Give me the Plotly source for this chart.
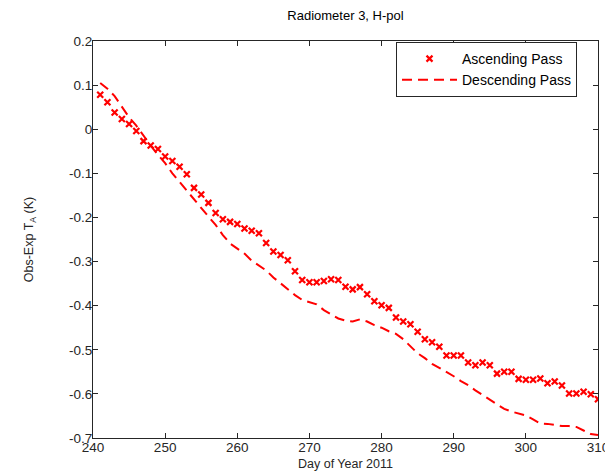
import plotly.graph_objects as go

days = list(range(241, 311))

ascending = [
    0.078, 0.061, 0.038, 0.023, 0.012, -0.004, -0.027, -0.037, -0.045, -0.062,
    -0.072, -0.085, -0.102, -0.133, -0.148, -0.167, -0.190, -0.204, -0.210, -0.215,
    -0.225, -0.230, -0.236, -0.258, -0.277, -0.285, -0.297, -0.322, -0.342, -0.347,
    -0.347, -0.344, -0.340, -0.342, -0.357, -0.363, -0.358, -0.374, -0.390, -0.399,
    -0.405, -0.427, -0.436, -0.442, -0.459, -0.476, -0.483, -0.493, -0.513, -0.513,
    -0.513, -0.529, -0.535, -0.529, -0.535, -0.554, -0.550, -0.550, -0.566, -0.568,
    -0.568, -0.565, -0.576, -0.572, -0.581, -0.599, -0.599, -0.595, -0.601, -0.612,
]

descending = [
    0.105, 0.092, 0.075, 0.052, 0.027, 0.008, -0.015, -0.037, -0.058, -0.077,
    -0.100, -0.120, -0.140, -0.160, -0.178, -0.198, -0.217, -0.240, -0.259, -0.270,
    -0.282, -0.298, -0.309, -0.320, -0.336, -0.350, -0.362, -0.376, -0.387, -0.392,
    -0.397, -0.410, -0.420, -0.429, -0.434, -0.436, -0.431, -0.436, -0.444, -0.450,
    -0.458, -0.464, -0.476, -0.492, -0.508, -0.519, -0.532, -0.541, -0.550, -0.560,
    -0.571, -0.580, -0.592, -0.603, -0.614, -0.624, -0.634, -0.640, -0.645, -0.649,
    -0.658, -0.667, -0.668, -0.671, -0.673, -0.673, -0.675, -0.683, -0.691, -0.693,
]

x_ticks = [240, 250, 260, 270, 280, 290, 300, 310]
y_ticks = [0.2, 0.1, 0.0, -0.1, -0.2, -0.3, -0.4, -0.5, -0.6, -0.7]
y_tick_labels = ["0.2", "0.1", "0", "-0.1", "-0.2", "-0.3", "-0.4", "-0.5", "-0.6", "-0.7"]

RED = "#ff0000"
AXC = "#262626"
FONT = "Liberation Sans, Arial, sans-serif"

fig = go.Figure()
fig.add_trace(go.Scatter(
    x=days, y=ascending, mode="markers", name="Ascending Pass",
    marker=dict(symbol="x-thin", size=6, color=RED, line=dict(color=RED, width=2.2)),
))
fig.add_trace(go.Scatter(
    x=days, y=descending, mode="lines", name="Descending Pass",
    line=dict(color=RED, width=2, dash="10px,6px"),
))

axis_common = dict(
    showline=True, linecolor=AXC, linewidth=1, mirror="ticks",
    ticks="inside", ticklen=5, tickcolor=AXC, showgrid=False, zeroline=False,
    tickfont=dict(family=FONT, size=13.5, color=AXC),
)

fig.update_layout(
    width=613, height=473,
    margin=dict(l=85, r=23, t=33, b=43),
    paper_bgcolor="white", plot_bgcolor="white",
    title=dict(text="Radiometer 3, H-pol", x=337.5 / 613, xanchor="center",
               y=1 - 7 / 473, yanchor="middle",
               font=dict(family=FONT, size=13, color="#000")),
    xaxis=dict(range=[240, 310], tickvals=x_ticks, ticklabelstandoff=-3,
               title=dict(text="Day of Year 2011", standoff=5,
                          font=dict(family=FONT, size=12.5, color=AXC)),
               **axis_common),
    yaxis=dict(range=[-0.7, 0.2], tickvals=y_ticks, ticktext=y_tick_labels,
               ticklabelstandoff=-3,
               title=dict(text="Obs-Exp T<sub>A</sub> (K)", standoff=32,
                          font=dict(family=FONT, size=12.5, color=AXC)),
               **axis_common),
    legend=dict(x=(569 - 85) / 505, y=(430 - 34) / 397, xanchor="right", yanchor="top",
                bgcolor="white", bordercolor=AXC, borderwidth=1,
                font=dict(family=FONT, size=14, color="#000"),
                itemwidth=55, tracegroupgap=0),
    showlegend=True,
)

fig.write_html("out.html")
